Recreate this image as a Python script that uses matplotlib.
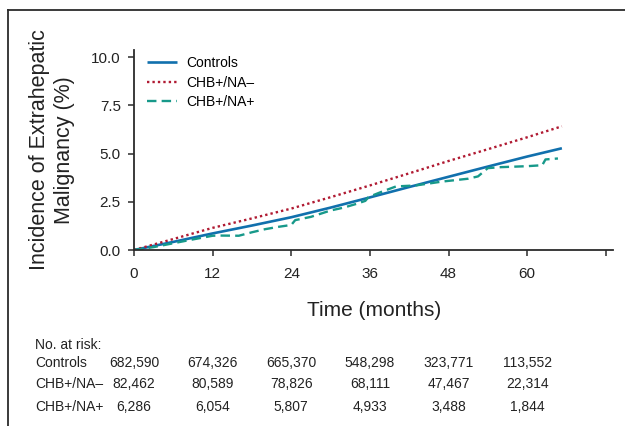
import numpy as np
import matplotlib.pyplot as plt
from matplotlib.lines import Line2D

# --- datos ---
meses_ctrl = [0, 6, 12, 18, 24, 30, 36, 42, 48, 54, 60, 65.3]
inc_ctrl = [0, 0.42, 0.86, 1.27, 1.70, 2.20, 2.73, 3.27, 3.80, 4.33, 4.85, 5.28]

meses_na_neg = [0, 6, 12, 18, 24, 30, 36, 42, 48, 54, 60, 65.3]
inc_na_neg = [0, 0.57, 1.15, 1.64, 2.15, 2.74, 3.35, 3.98, 4.62, 5.23, 5.85, 6.42]

meses_na_pos = [0, 3, 6, 9, 12, 13, 16, 18, 20, 22, 24, 24.6, 27, 30, 32, 34, 35.3, 35.8,
                38, 40, 43, 45, 47, 51, 52.5, 54, 56, 60, 62.3, 62.8, 64.7]
inc_na_pos = [0, 0.15, 0.35, 0.55, 0.74, 0.75, 0.74, 0.92, 1.08, 1.20, 1.30, 1.55, 1.72, 2.05,
              2.20, 2.40, 2.55, 2.75, 3.05, 3.30, 3.35, 3.45, 3.55, 3.70, 3.82, 4.25, 4.30, 4.35,
              4.40, 4.70, 4.75]

grupos = ['Controls', 'CHB+/NA\u2013', 'CHB+/NA+']
ticks_x = [0, 12, 24, 36, 48, 60, 72]
etiquetas_x = ['0', '12', '24', '36', '48', '60', '']
ticks_y = [0.0, 2.5, 5.0, 7.5, 10.0]

# numero en riesgo
riesgo_ctrl = ['682,590', '674,326', '665,370', '548,298', '323,771', '113,552']
riesgo_na_neg = ['82,462', '80,589', '78,826', '68,111', '47,467', '22,314']
riesgo_na_pos = ['6,286', '6,054', '5,807', '4,933', '3,488', '1,844']

azul = '#1170ad'
rojo = '#b01a32'
verde = '#17998a'
gris = '#2b2b2b'
texto = '#222222'

plt.rcParams['font.family'] = ['Liberation Sans', 'DejaVu Sans']

fig = plt.figure(figsize=(6.25, 4.26), dpi=100)
ax = fig.add_axes([134 / 625, 1 - 250 / 426, 479 / 625, 200 / 426])

ax.plot(meses_ctrl, inc_ctrl, color=azul, lw=1.9, label=grupos[0], solid_capstyle='butt')
ax.plot(meses_na_neg, inc_na_neg, color=rojo, lw=1.7, linestyle=(0, (1, 1.3)), label=grupos[1])
ax.plot(meses_na_pos, inc_na_pos, color=verde, lw=1.7, linestyle=(0, (4, 2.2)), label=grupos[2])

ax.set_xlim(0, 73.1)
ax.set_ylim(0, 10.38)
ax.set_xticks(ticks_x)
ax.set_xticklabels(etiquetas_x)
ax.set_yticks(ticks_y)
ax.set_yticklabels([f'{v:.1f}' for v in ticks_y])
ax.tick_params(direction='out', length=4.5, width=1.1, color=gris, labelsize=11, labelcolor=texto)
ax.tick_params(axis='x', pad=8)
ax.tick_params(axis='y', pad=5)
for s in ['top', 'right']:
    ax.spines[s].set_visible(False)
for s in ['left', 'bottom']:
    ax.spines[s].set_linewidth(1.3)
    ax.spines[s].set_color(gris)

ax.legend(loc='upper left', bbox_to_anchor=(0.027, 0.97), frameon=False, fontsize=10,
          handlelength=2.2, handletextpad=0.6, labelspacing=0.4, borderpad=0, borderaxespad=0)

# titulos de ejes
fig.text(52 / 625, 1 - 150 / 426, 'Incidence of Extrahepatic\nMalignancy (%)', rotation=90,
         ha='center', va='center', multialignment='center', fontsize=15.5, color=texto,
         linespacing=1.25)
fig.text(374 / 625, 1 - 311 / 426, 'Time (months)', ha='center', va='center', fontsize=15,
         color=texto)

# tabla de numero en riesgo
fig.text(35 / 625, 1 - 345 / 426, 'No. at risk:', ha='left', va='center', fontsize=10, color=texto)
filas = [riesgo_ctrl, riesgo_na_neg, riesgo_na_pos]
ys = [362.7, 384.5, 406.7]
for nombre, fila, yp in zip(grupos, filas, ys):
    fig.text(35 / 625, 1 - yp / 426, nombre, ha='left', va='center', fontsize=10, color=texto)
    for mes, val in zip(ticks_x[:6], fila):
        xp = ax.transData.transform((mes, 0))[0] / fig.bbox.width
        fig.text(xp, 1 - yp / 426, val, ha='center', va='center', fontsize=10, color=texto)

# marco del panel
fig.add_artist(Line2D([8 / 625, 1], [1 - 10 / 426, 1 - 10 / 426], color=gris, lw=1.3,
                      transform=fig.transFigure))
fig.add_artist(Line2D([8 / 625, 8 / 625], [0, 1 - 10 / 426], color=gris, lw=1.3,
                      transform=fig.transFigure))

fig.savefig('out.png', dpi=100)
